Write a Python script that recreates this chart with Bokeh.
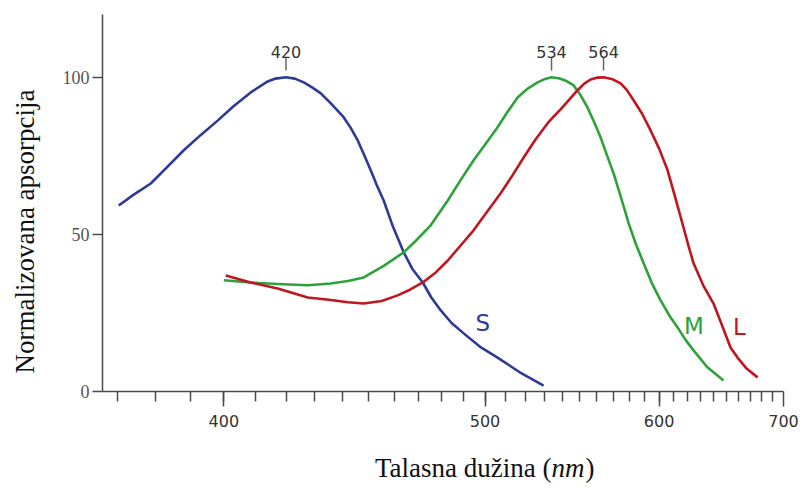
import numpy as np
from bokeh.plotting import figure
from bokeh.models import Range1d, FixedTicker, CustomJSTickFormatter, Label
from bokeh.core.properties import value
from bokeh.embed import file_html
from bokeh.resources import INLINE

# ---- data (wavelength in nm, normalized absorption in %) ----
s_wl = [370.2, 374.0, 378.8, 383.0, 388.1, 393.0, 398.2, 403.0, 408.4, 413.9, 416.5,
        420.0, 423.0, 426.1, 429.0, 432.1, 435.7, 440.4, 443.0, 445.7, 448.0, 450.7,
        453.0, 455.8, 459.5, 463.9, 467.5, 471.9, 475.5, 479.7, 484.5, 490.0, 497.5,
        506.1, 517.0, 529.7]
s_abs = [59.2, 62.5, 66.2, 71.0, 76.8, 81.6, 86.3, 90.8, 95.2, 98.7, 99.6,
         100.0, 99.6, 98.4, 96.8, 94.9, 91.7, 87.3, 84.0, 79.9, 75.6, 70.4,
         65.8, 60.8, 52.5, 44.3, 39.0, 34.7, 30.0, 25.8, 21.8, 18.5, 14.3,
         10.8, 6.2, 1.9]

m_wl = [400.0, 408.4, 417.2, 427.5, 435.7, 442.0, 448.0, 455.8, 463.9, 469.5, 475.3,
        482.8, 488.5, 494.6, 500.5, 506.1, 511.0, 516.1, 521.5, 526.5, 530.5, 534.0,
        538.0, 542.0, 546.3, 550.5, 554.4, 558.3, 562.2, 566.0, 570.2, 575.0, 579.7,
        584.5, 589.5, 595.0, 601.0, 607.0, 613.0, 618.5, 624.7, 635.0, 647.9]
m_abs = [35.4, 34.7, 34.2, 33.8, 34.4, 35.2, 36.3, 40.0, 44.3, 48.4, 52.9,
         60.8, 67.2, 73.6, 79.0, 84.1, 89.0, 93.6, 96.5, 98.4, 99.5, 100.0,
         99.7, 98.9, 97.5, 94.2, 90.4, 85.8, 80.9, 75.3, 69.4, 61.5, 53.5,
         46.8, 40.8, 34.5, 29.0, 24.3, 20.4, 16.6, 13.1, 7.8, 3.5]

l_wl = [400.6, 408.4, 417.2, 427.5, 435.7, 442.0, 448.0, 455.0, 461.4, 466.5, 471.9,
        477.5, 482.8, 488.5, 494.6, 501.0, 507.6, 513.5, 519.2, 525.5, 531.9, 535.5,
        539.0, 544.0, 548.6, 552.5, 556.2, 560.0, 564.0, 569.0, 574.6, 578.5, 582.9,
        588.5, 594.2, 600.0, 605.9, 611.5, 617.3, 621.0, 624.7, 632.0, 640.0, 647.0,
        653.6, 659.4, 667.0, 676.5]
l_abs = [36.9, 34.7, 32.8, 29.9, 29.1, 28.4, 28.0, 28.8, 30.6, 32.4, 34.7,
         37.9, 41.7, 46.4, 51.3, 57.2, 63.1, 68.8, 74.5, 80.3, 85.4, 87.7,
         89.8, 93.0, 95.9, 98.0, 99.3, 99.9, 100.0, 99.5, 98.1, 96.0, 92.7,
         88.4, 83.1, 77.3, 70.4, 61.5, 52.2, 46.3, 40.8, 33.8, 28.0, 20.8,
         14.0, 10.8, 7.3, 4.5]

peaks = [420, 534, 564]
curve_names = ["S", "M", "L"]
name_wl = [499.0, 625.0, 661.0]
name_y = [21.7, 21.0, 20.4]

x_major = [400, 500, 600, 700]
x_minor = list(range(370, 700, 10))
y_ticks = [0, 50, 100]

BLUE = "#2d3a96"
GREEN = "#2aa43a"
RED = "#c0161f"


def tx(wl):
    # wavenumber-like axis (linear in 1/lambda)
    return -1e5 / np.asarray(wl, dtype=float)


X0, X1 = float(tx(366.0)), float(tx(700.0))
Y0, Y1 = 0.0, 120.0
LEFT, RIGHT, TOP, BOTTOM = 102, 22, 14, 102
W, H = 805, 493

p = figure(width=W, height=H, output_backend="svg", toolbar_location=None,
           x_range=Range1d(X0, X1), y_range=Range1d(Y0, Y1),
           min_border_left=LEFT, min_border_right=RIGHT,
           min_border_top=TOP, min_border_bottom=BOTTOM)
p.xgrid.visible = False
p.ygrid.visible = False
p.outline_line_color = None
p.background_fill_color = "white"
p.border_fill_color = "white"

ax_col = "#4a4a4a"
xa = p.xaxis[0]
xa.ticker = FixedTicker(ticks=[float(v) for v in tx(x_major)],
                        minor_ticks=[float(v) for v in tx(x_minor)])
xa.formatter = CustomJSTickFormatter(code="return Math.round(-1e5 / tick).toString();")
xa.major_tick_in = 0
xa.major_tick_out = 15
xa.minor_tick_in = 0
xa.minor_tick_out = 10
xa.axis_line_color = ax_col
xa.axis_line_width = 1.5
xa.major_tick_line_color = ax_col
xa.major_tick_line_width = 1.5
xa.minor_tick_line_color = ax_col
xa.minor_tick_line_width = 1.5
xa.major_label_text_font = "DejaVu Sans"
xa.major_label_text_font_size = "16px"
xa.major_label_text_color = "#333333"
xa.major_label_standoff = 8

ya = p.yaxis[0]
ya.ticker = FixedTicker(ticks=y_ticks)
ya.major_tick_in = 0
ya.major_tick_out = 10
ya.minor_tick_out = 0
ya.minor_tick_in = 0
ya.axis_line_color = ax_col
ya.axis_line_width = 1.5
ya.major_tick_line_color = ax_col
ya.major_tick_line_width = 1.5
ya.major_label_text_font = "Liberation Serif"
ya.major_label_text_font_size = "18px"
ya.major_label_text_color = "#555555"
ya.major_label_standoff = 3

# curves
p.line(tx(s_wl), s_abs, line_width=2.6, color=BLUE, line_join="round")
p.line(tx(m_wl), m_abs, line_width=2.6, color=GREEN, line_join="round")
p.line(tx(l_wl), l_abs, line_width=2.6, color=RED, line_join="round")

# peak markers
px = tx(peaks)
p.segment(x0=px, y0=[102.2] * 3, x1=px, y1=[106.5] * 3, line_color="#666666", line_width=1.5)
p.text(x=px, y=[108.0] * 3, text=[str(v) for v in peaks], text_align="center",
       text_baseline="alphabetic", text_font=value("DejaVu Sans"),
       text_font_size=value("16px"), text_color="#333333")

# curve names
p.text(x=tx(name_wl), y=name_y, text=curve_names, text_align="center",
       text_baseline="middle", text_font=value("DejaVu Sans"),
       text_font_size=value("23px"), text_color=[BLUE, GREEN, RED])

# axis titles as canvas-positioned labels placed in side panels (not clipped)
serif = dict(text_font="Liberation Serif", text_font_size="27px", text_color="#111111",
             x_units="canvas", y_units="canvas", text_baseline="middle")
split_px = 551
ly = 467
p.add_layout(Label(x=split_px, y=ly, text="Talasna dužina (", text_align="right", **serif), "below")
p.add_layout(Label(x=split_px, y=ly, text="nm", text_align="left",
                   text_font_style="italic", **serif), "below")
p.add_layout(Label(x=split_px + 34, y=ly, text=")", text_align="left", **serif), "right")
p.add_layout(Label(x=24, y=231, text="Normalizovana apsorpcija", text_align="center",
                   angle=np.pi / 2, **serif), "left")

open("out.html", "w").write(file_html(p, INLINE))
